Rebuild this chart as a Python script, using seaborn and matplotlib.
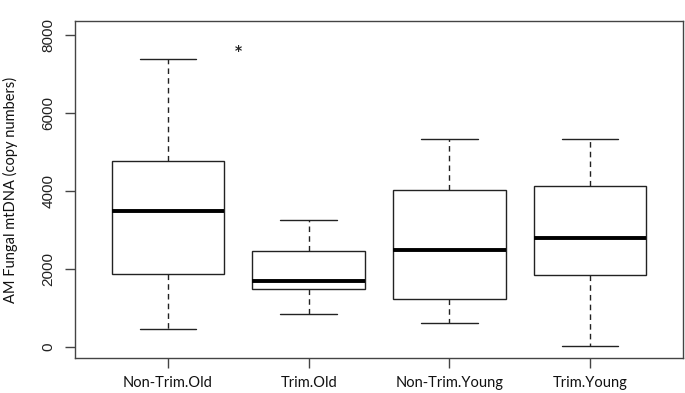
import numpy as np
import pandas as pd
import matplotlib
matplotlib.use("Agg")
import matplotlib.pyplot as plt
import seaborn as sns

# Groups and five-number summaries (min, Q1, median, Q3, max)
categories = ["Non-Trim.Old", "Trim.Old", "Non-Trim.Young", "Trim.Young"]
non_trim_old = [470, 1870, 3490, 4775, 7380]
trim_old = [855, 1490, 1700, 2460, 3255]
non_trim_young = [625, 1240, 2500, 4035, 5330]
trim_young = [30, 1840, 2785, 4125, 5345]
y_ticks = [0, 2000, 4000, 6000, 8000]
annot_text = "*"
annot_pos = (0.5, 7580)

df = pd.DataFrame({
    "group": np.repeat(categories, 5),
    "value": non_trim_old + trim_old + non_trim_young + trim_young,
})

sns.set_style("white")
fig = plt.figure(figsize=(6.85, 3.93), dpi=100)
ax = fig.add_axes([75 / 685, 1 - 358 / 393, (683 - 75) / 685, (358 - 21) / 393])

line_col = "#222222"
sns.boxplot(
    data=df, x="group", y="value", order=categories, ax=ax,
    color="white", width=0.8, whis=np.inf, linewidth=1.0, linecolor=line_col,
    boxprops=dict(facecolor="white", edgecolor=line_col, linewidth=1.0),
    whiskerprops=dict(color=line_col, linestyle=(0, (4, 3)), linewidth=1.0),
    capprops=dict(color=line_col, linewidth=1.0),
    medianprops=dict(color="black", linewidth=2.8),
)

ax.text(annot_pos[0], annot_pos[1], annot_text, ha="center", va="center",
        fontsize=10, fontweight="bold", color=line_col, fontfamily="DejaVu Sans")

ax.set_xlim(-0.66, 3.66)
ax.set_ylim(-280, 8360)
ax.set_yticks(y_ticks)
ax.set_yticklabels([str(v) for v in y_ticks], rotation=90, va="center",
                   fontsize=11, fontfamily="Liberation Sans", color="#222222")
ax.set_xticks(range(len(categories)))
ax.set_xticklabels(categories, fontsize=10.5, fontfamily="Lato", color="#111111")
ax.tick_params(axis="y", direction="out", length=7, width=1, color="#444444", pad=7, left=True)
ax.tick_params(axis="x", direction="out", length=7, width=1, color="#444444", pad=6, bottom=True)
ax.set_xlabel("")
ax.set_ylabel("AM Fungal mtDNA (copy numbers)", fontsize=10.5, fontfamily="Lato",
              color="#111111")
ax.yaxis.set_label_coords(-0.093, 0.5)
for s in ax.spines.values():
    s.set_visible(True)
    s.set_color("#444444")
    s.set_linewidth(1.0)

fig.savefig("out.png", dpi=100)
